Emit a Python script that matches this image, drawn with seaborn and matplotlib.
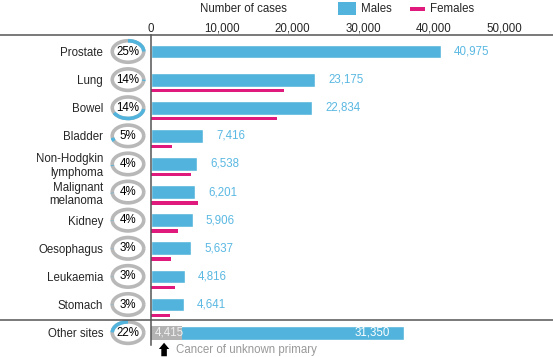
import numpy as np
import pandas as pd
import matplotlib.pyplot as plt
import seaborn as sns
from matplotlib.patches import Arc, Rectangle
from matplotlib.transforms import blended_transform_factory

# Data
sites = ["Prostate", "Lung", "Bowel", "Bladder", "Non-Hodgkin\nlymphoma",
         "Malignant\nmelanoma", "Kidney", "Oesophagus", "Leukaemia", "Stomach",
         "Other sites"]
males = [40975, 23175, 22834, 7416, 6538, 6201, 5906, 5637, 4816, 4641, 31350]
females = [0, 18800, 17850, 2900, 5700, 6600, 3750, 2850, 3450, 2750, 0]
percent = [25, 14, 14, 5, 4, 4, 4, 3, 3, 3, 22]
unknown_primary = 4415
xticks = [0, 10000, 20000, 30000, 40000, 50000]

BLUE = "#52b4dc"
BLUE_TXT = "#5ab8e2"
PINK = "#e0197d"
RING = "#b8b8b8"
DARK = "#555555"
FS = 8.3

sns.set_style("white")
plt.rcParams["font.family"] = ["Liberation Sans", "DejaVu Sans"]

# last row is stacked: unknown primary (grey) + other sites
totals = list(males)
totals[-1] = males[-1] + unknown_primary
df = pd.DataFrame({"site": sites, "total": totals, "female": females})

W, H = 553, 357
fig = plt.figure(figsize=(W / 100, H / 100), dpi=100)
ax = fig.add_axes([151 / W, 12 / H, 402 / W, 310 / H])

sns.barplot(data=df, x="total", y="site", orient="h", color=BLUE,
            width=0.49, saturation=1, ax=ax)
pos = np.arange(len(sites))
ax.barh(pos + 0.384, df["female"], height=0.12, color=PINK, lw=0)
ax.barh(pos[-1], unknown_primary, height=0.49, color="#b3b3b3", lw=0)

ax.set_xlim(0, 56860)
ax.set_ylim(10.44, -0.587)

# axis styling
ax.xaxis.tick_top()
ax.set_xticks(xticks)
ax.set_xticklabels([f"{t:,}" for t in xticks], fontsize=FS)
ax.tick_params(axis="x", length=0, pad=0.3)
ax.tick_params(axis="y", length=0, pad=34.5, labelsize=FS)
ax.set_xlabel("")
ax.set_ylabel("")
for s in ["top", "right", "bottom"]:
    ax.spines[s].set_visible(False)
ax.spines["left"].set_color(DARK)
ax.spines["left"].set_linewidth(1.1)

xmin_full = -151 / 402
ax.axhline(-0.587, xmin=xmin_full, xmax=1, color=DARK, lw=1.1, clip_on=False)
ax.axhline(9.55, xmin=xmin_full, xmax=1, color=DARK, lw=1.1, clip_on=False)

# value labels
for i in range(len(sites) - 1):
    ax.annotate(f"{males[i]:,}", (males[i], i), xytext=(9.5, 0),
                textcoords="offset points", va="center", ha="left",
                color=BLUE_TXT, fontsize=FS)
ax.annotate(f"{unknown_primary:,}", (0, pos[-1]), xytext=(2.5, 0),
            textcoords="offset points", va="center", ha="left",
            color="#f0f0f0", fontsize=FS)
ax.annotate(f"{males[-1]:,}", (totals[-1], pos[-1]), xytext=(-10, 0),
            textcoords="offset points", va="center", ha="right",
            color="white", fontsize=FS)

# cancer of unknown primary note
ax.annotate("", xy=(1850, 10.36), xytext=(1850, 10.84),
            arrowprops=dict(arrowstyle="simple,head_length=0.45,head_width=0.75,tail_width=0.4",
                            color="black", lw=0, shrinkA=0, shrinkB=0),
            annotation_clip=False)
ax.text(3550, 10.62, "Cancer of unknown primary", color="#999999",
        fontsize=FS, va="center", ha="left", clip_on=False)

# percentage rings, arcs run on cumulatively from 12 o'clock
tr = blended_transform_factory(ax.transAxes, ax.transData)
cx, rw, rh = -23 / 402, 31.5 / 402, 21.5 / 28.1
start = 0
for i, p in enumerate(percent):
    ax.add_patch(Arc((cx, i), rw, rh, theta1=0, theta2=360, color=RING,
                     lw=2.6, transform=tr, clip_on=False))
    end = min(start + p, 100)
    ax.add_patch(Arc((cx, i), rw, rh, theta1=270 + 3.6 * start,
                     theta2=270 + 3.6 * end, color=BLUE, lw=2.6,
                     transform=tr, clip_on=False))
    start = end
    ax.text(cx, i, f"{p}%", transform=tr, ha="center", va="center",
            fontsize=FS, color="black")

# header: axis title and hand-built legend
fig.text(243 / W, 1 - 9 / H, "Number of cases", ha="center", va="center",
         fontsize=FS)
fig.add_artist(Rectangle((338 / W, 1 - 15 / H), 18 / W, 13.5 / H,
                         color=BLUE, lw=0, transform=fig.transFigure))
fig.text(361 / W, 1 - 9 / H, "Males", ha="left", va="center", fontsize=FS)
fig.add_artist(Rectangle((410 / W, 1 - 10.8 / H), 15 / W, 3.6 / H,
                         color=PINK, lw=0, transform=fig.transFigure))
fig.text(430 / W, 1 - 9 / H, "Females", ha="left", va="center", fontsize=FS)

fig.savefig("out.png", dpi=100)
